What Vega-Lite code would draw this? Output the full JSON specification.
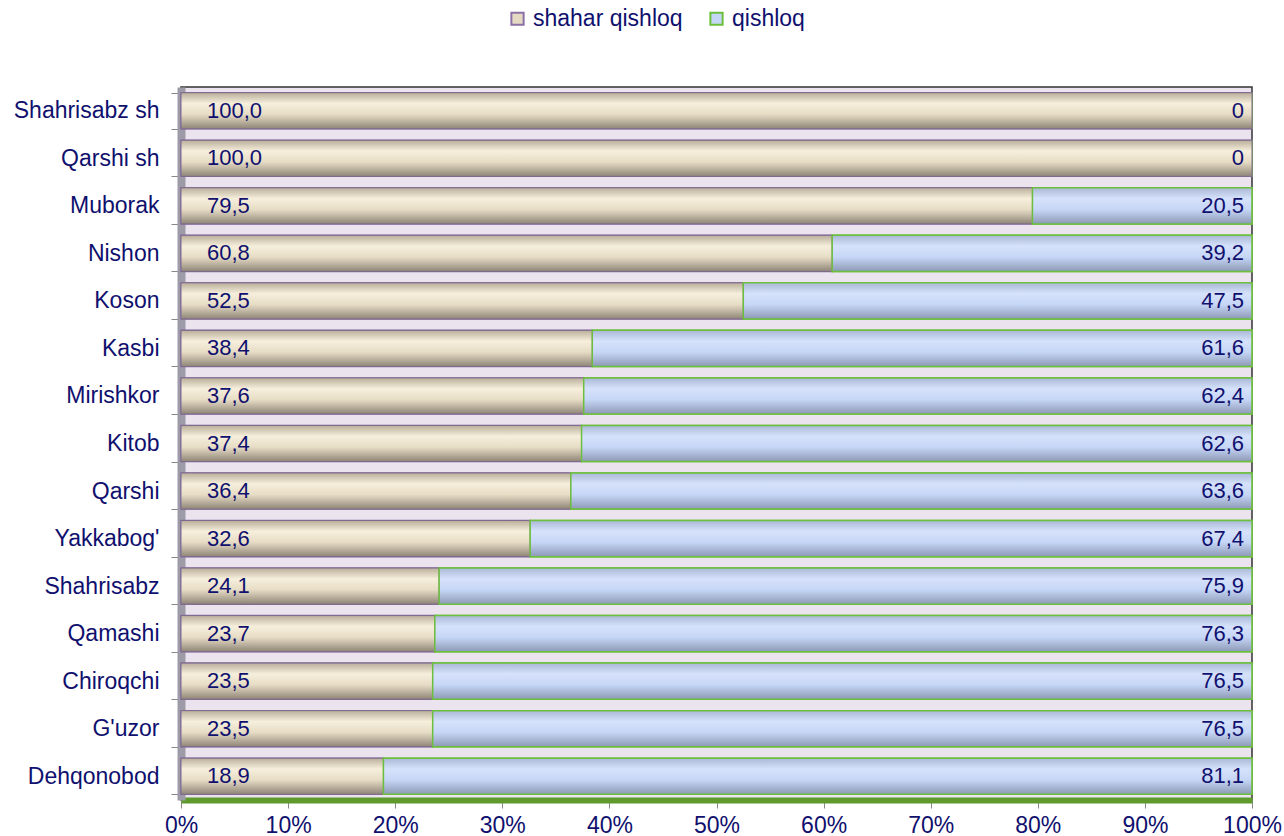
{
  "$schema": "https://vega.github.io/schema/vega-lite/v6.json",
  "autosize": {"type": "none"},
  "width": 1071,
  "height": 713,
  "padding": {"left": 181, "top": 87, "right": 32, "bottom": 36},
  "background": "#ffffff",
  "config": {
    "locale": {"number": {"decimal": ",", "thousands": " ", "grouping": [3], "currency": ["", ""]}},
    "font": "Liberation Sans",
    "view": {"fill": "#ebe3ee", "stroke": "#333333", "strokeWidth": 1.5}
  },
  "data": {
    "values": [
      {"district": "Shahrisabz sh", "type": "shahar qishloq", "value": 100.0},
      {"district": "Shahrisabz sh", "type": "qishloq", "value": 0},
      {"district": "Qarshi sh", "type": "shahar qishloq", "value": 100.0},
      {"district": "Qarshi sh", "type": "qishloq", "value": 0},
      {"district": "Muborak", "type": "shahar qishloq", "value": 79.5},
      {"district": "Muborak", "type": "qishloq", "value": 20.5},
      {"district": "Nishon", "type": "shahar qishloq", "value": 60.8},
      {"district": "Nishon", "type": "qishloq", "value": 39.2},
      {"district": "Koson", "type": "shahar qishloq", "value": 52.5},
      {"district": "Koson", "type": "qishloq", "value": 47.5},
      {"district": "Kasbi", "type": "shahar qishloq", "value": 38.4},
      {"district": "Kasbi", "type": "qishloq", "value": 61.6},
      {"district": "Mirishkor", "type": "shahar qishloq", "value": 37.6},
      {"district": "Mirishkor", "type": "qishloq", "value": 62.4},
      {"district": "Kitob", "type": "shahar qishloq", "value": 37.4},
      {"district": "Kitob", "type": "qishloq", "value": 62.6},
      {"district": "Qarshi", "type": "shahar qishloq", "value": 36.4},
      {"district": "Qarshi", "type": "qishloq", "value": 63.6},
      {"district": "Yakkabog'", "type": "shahar qishloq", "value": 32.6},
      {"district": "Yakkabog'", "type": "qishloq", "value": 67.4},
      {"district": "Shahrisabz", "type": "shahar qishloq", "value": 24.1},
      {"district": "Shahrisabz", "type": "qishloq", "value": 75.9},
      {"district": "Qamashi", "type": "shahar qishloq", "value": 23.7},
      {"district": "Qamashi", "type": "qishloq", "value": 76.3},
      {"district": "Chiroqchi", "type": "shahar qishloq", "value": 23.5},
      {"district": "Chiroqchi", "type": "qishloq", "value": 76.5},
      {"district": "G'uzor", "type": "shahar qishloq", "value": 23.5},
      {"district": "G'uzor", "type": "qishloq", "value": 76.5},
      {"district": "Dehqonobod", "type": "shahar qishloq", "value": 18.9},
      {"district": "Dehqonobod", "type": "qishloq", "value": 81.1}
    ]
  },
  "transform": [
    {"calculate": "datum.type === 'shahar qishloq' ? 0 : 1", "as": "ord"},
    {"stack": "value", "groupby": ["district"], "sort": [{"field": "ord", "order": "ascending"}], "as": ["x0", "x1"]}
  ],
  "encoding": {
    "y": {
      "field": "district",
      "type": "nominal",
      "sort": null,
      "scale": {"paddingInner": 0.24, "paddingOuter": 0.12},
      "axis": {
        "title": null,
        "labelFontSize": 23,
        "labelColor": "#10106e",
        "labelPadding": 12,
        "tickBand": "extent",
        "tickSize": 10,
        "tickColor": "#888888",
        "domainColor": "#9d9ba8",
        "domainWidth": 8
      }
    }
  },
  "layer": [
    {
      "mark": {"type": "bar", "strokeWidth": 1.5},
      "encoding": {
        "x": {
          "field": "x0",
          "type": "quantitative",
          "scale": {"domain": [0, 100], "nice": false},
          "axis": {
            "title": null,
            "labelExpr": "datum.value + '%'",
            "values": [0, 10, 20, 30, 40, 50, 60, 70, 80, 90, 100],
            "labelFontSize": 23,
            "labelColor": "#10106e",
            "labelPadding": 6,
            "grid": false,
            "tickColor": "#888888",
            "tickSize": 8,
            "domainColor": "#5e9a2c",
            "domainWidth": 6,
            "labelFlush": false
          }
        },
        "x2": {"field": "x1"},
        "color": {
          "field": "type",
          "type": "nominal",
          "scale": {"domain": ["shahar qishloq", "qishloq"], "range": ["#e4dac3", "#c6d6f6"]},
          "legend": {
            "title": null,
            "orient": "none",
            "legendX": 325,
            "legendY": -80,
            "direction": "horizontal",
            "symbolType": "square",
            "symbolSize": 150,
            "symbolStrokeWidth": 2,
            "labelFontSize": 23,
            "labelColor": "#10106e",
            "columnPadding": 22
          }
        },
        "stroke": {
          "field": "type",
          "type": "nominal",
          "scale": {"domain": ["shahar qishloq", "qishloq"], "range": ["#8c6fa6", "#6cbf3c"]},
          "legend": null
        }
      }
    },
    {
      "transform": [{"filter": "datum.type === 'shahar qishloq'"}],
      "mark": {
        "type": "bar",
        "stroke": "#7d6a8c",
        "strokeWidth": 1,
        "fill": {
          "gradient": "linear",
          "x1": 0, "y1": 0, "x2": 0, "y2": 1,
          "stops": [
            {"offset": 0, "color": "#b9ae9a"},
            {"offset": 0.3, "color": "#f6efdc"},
            {"offset": 0.6, "color": "#e7ddc6"},
            {"offset": 1, "color": "#8f8577"}
          ]
        }
      },
      "encoding": {
        "x": {"field": "x0", "type": "quantitative"},
        "x2": {"field": "x1"}
      }
    },
    {
      "transform": [{"filter": "datum.type === 'qishloq' && datum.value > 0"}],
      "mark": {
        "type": "bar",
        "stroke": "#6cbf3c",
        "strokeWidth": 1.5,
        "fill": {
          "gradient": "linear",
          "x1": 0, "y1": 0, "x2": 0, "y2": 1,
          "stops": [
            {"offset": 0, "color": "#a9b8d6"},
            {"offset": 0.3, "color": "#d6e2fb"},
            {"offset": 0.6, "color": "#c6d6f6"},
            {"offset": 1, "color": "#8d9ab6"}
          ]
        }
      },
      "encoding": {
        "x": {"field": "x0", "type": "quantitative"},
        "x2": {"field": "x1"}
      }
    },
    {
      "transform": [{"filter": "datum.type === 'shahar qishloq'"}],
      "mark": {"type": "text", "align": "left", "baseline": "middle", "dx": 26, "fontSize": 22, "color": "#10106e"},
      "encoding": {
        "x": {"datum": 0, "type": "quantitative"},
        "text": {"field": "value", "type": "quantitative", "format": ".1f"}
      }
    },
    {
      "transform": [{"filter": "datum.type === 'qishloq'"}],
      "mark": {"type": "text", "align": "right", "baseline": "middle", "dx": -8, "fontSize": 22, "color": "#10106e"},
      "encoding": {
        "x": {"datum": 100, "type": "quantitative"},
        "text": {
          "condition": {"test": "datum.value === 0", "value": "0"},
          "field": "value", "type": "quantitative", "format": ".1f"
        }
      }
    }
  ]
}
